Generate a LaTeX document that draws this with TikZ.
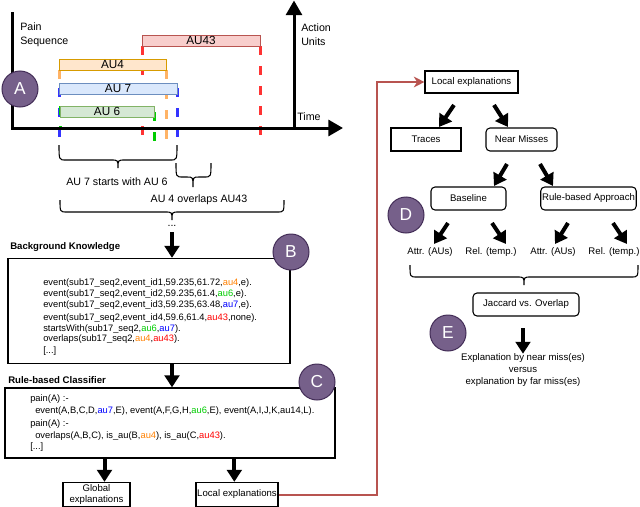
\documentclass[tikz,border=0pt]{standalone}
\usepackage{fontspec}
\setmainfont{Liberation Sans}
\usetikzlibrary{arrows.meta}
\definecolor{purp}{HTML}{76608A}
\definecolor{purpd}{HTML}{432D57}
\definecolor{rfill}{HTML}{F8CECC}\definecolor{rline}{HTML}{B85450}
\definecolor{ofill}{HTML}{FFE6CC}\definecolor{oline}{HTML}{D79B00}
\definecolor{bfill}{HTML}{DAE8FC}\definecolor{bline}{HTML}{6C8EBF}
\definecolor{gfill}{HTML}{D5E8D4}\definecolor{gline}{HTML}{82B366}
\definecolor{dred}{HTML}{FF3333}\definecolor{dora}{HTML}{FFB366}
\definecolor{dblu}{HTML}{3333FF}\definecolor{dgrn}{HTML}{00CC00}
\definecolor{tora}{HTML}{FF8000}\definecolor{tgrn}{HTML}{00CC00}
\definecolor{tblu}{HTML}{0000FF}\definecolor{tred}{HTML}{FF0000}
\newcommand{\kOr}[1]{\textcolor{tora}{#1}}
\newcommand{\kGr}[1]{\textcolor{tgrn}{#1}}
\newcommand{\kBl}[1]{\textcolor{tblu}{#1}}
\newcommand{\kRd}[1]{\textcolor{tred}{#1}}
\begin{document}
\begin{tikzpicture}[x=0.75pt,y=-0.75pt,
  code/.style={anchor=west, inner sep=0pt, font=\fontsize{7}{8}\selectfont},
  ttl/.style={anchor=west, inner sep=0pt, font=\fontsize{7.2}{8}\selectfont\bfseries},
  box/.style={draw, line width=0.8pt, inner sep=1pt, font=\fontsize{7.2}{8.6}\selectfont, align=center},
  rbox/.style={box, rounded corners=3pt},
  bigbox/.style={draw, line width=1pt, inner sep=0pt},
  letter/.style={circle, fill=purp, draw=purpd, line width=0.75pt, minimum size=27pt, inner sep=0pt, text=white, font=\fontsize{13}{13}\selectfont},
  fat/.style={line width=3pt, -{Triangle[length=9pt,width=11pt]}},
  axis/.style={line width=2.25pt, -{Triangle[length=11pt,width=12pt]}},
  audash/.style={line width=2.25pt, dash pattern=on 6.75pt off 8.25pt},
  bar/.style={draw, line width=0.75pt, inner sep=0pt, minimum height=8.25pt, font=\fontsize{8.8}{8.8}\selectfont},
  lbl/.style={inner sep=0pt, font=\fontsize{8}{10.5}\selectfont, align=left},
  plain/.style={inner sep=0pt, font=\fontsize{7.2}{9}\selectfont, align=center},
  brace/.style={line width=0.8pt}
]
\useasboundingbox (0,0) rectangle (640,507);

% ---------- timeline ----------
\draw[audash, dred] (142,46) -- (142,142);
\draw[audash, dred] (260,46) -- (260,142);
\draw[audash, dora] (59,70) -- (59,80);
\draw[audash, dora] (166,70) -- (166,142);
\draw[audash, dblu] (59,88) -- (59,142);
\draw[audash, dblu] (177,88) -- (177,142);
\draw[audash, dgrn] (60,106) -- (60,130);
\draw[audash, dgrn] (154,112) -- (154,142);

\node[bar, fill=rfill, draw=rline, minimum width=88.5pt] (au43) at (201,40.5) {AU43};
\node[bar, fill=ofill, draw=oline, minimum width=80.25pt] (au4) at (112.5,64.5) {AU4};
\node[bar, fill=bfill, draw=bline, minimum width=88.5pt] (au7) at (118,88.5) {AU 7};
\node[bar, fill=gfill, draw=gline, minimum width=70.5pt] (au6) at (107,111.5) {AU 6};

\draw[line width=2.25pt] (12,12) -- (12,129);
\draw[axis] (11,128) -- (343,128);
\draw[axis] (294,129.5) -- (294,0.5);

\node[lbl, anchor=west] (pain) at (20,35) {Pain\\Sequence};
\node[lbl, anchor=west] (actu) at (301,35) {Action\\Units};
\node[lbl, anchor=west] (time) at (297,117) {Time};
\node[letter] (A) at (20,89) {A};

\draw[brace] (59,145) .. controls (59,160) .. (66,160) -- (111,160) .. controls (118,160) .. (118,168)
  .. controls (118,160) .. (125,160) -- (170,160) .. controls (177,160) .. (177,145);
\draw[brace] (176,163) .. controls (176,177) .. (183,177) -- (187,177) .. controls (193,177) .. (193,187)
  .. controls (193,177) .. (199,177) -- (204,177) .. controls (211,177) .. (211,163);
\draw[brace] (60,200) .. controls (60,212) .. (67,212) -- (165,212) .. controls (172,212) .. (172,220)
  .. controls (172,212) .. (179,212) -- (277,212) .. controls (284,212) .. (284,200);
\node[lbl] (starts) at (117,182) {AU 7 starts with AU 6};
\node[lbl] (overl) at (199,200) {AU 4 overlaps AU43};
\node[lbl] (dots) at (172,226) {...};

% ---------- background knowledge ----------
\node[ttl] (bkt) at (10,247) {Background Knowledge};
\node[bigbox, minimum width=211.5pt, minimum height=78.75pt] (B) at (149,311) {};
\node[letter] (Bl) at (291,252) {B};
\node[code] (b1) at (43,283) {event(sub17\_seq2,event\_id1,59.235,61.72,\kOr{au4},e).};
\node[code] (b2) at (43,294) {event(sub17\_seq2,event\_id2,59.235,61.4,\kGr{au6},e).};
\node[code] (b3) at (43,305) {event(sub17\_seq2,event\_id3,59.235,63.48,\kBl{au7},e).};
\node[code] (b4) at (43,318) {event(sub17\_seq2,event\_id4,59.6,61.4,\kRd{au43},none).};
\node[code] (b5) at (43,329) {startsWith(sub17\_seq2,\kGr{au6},\kBl{au7}).};
\node[code] (b6) at (43,339.5) {overlaps(sub17\_seq2,\kOr{au4},\kRd{au43}).};
\node[code] (b7) at (43,351) {[...]};
\draw[fat] (dots.south |- 0,232) -- (dots.south |- B.north);

% ---------- rule-based classifier ----------
\node[ttl] (rct) at (8,380) {Rule-based Classifier};
\node[bigbox, minimum width=247.5pt, minimum height=52.5pt] (C) at (170,423) {};
\node[letter] (Cl) at (317,382) {C};
\node[code] (c1) at (30,399) {pain(A) :-};
\node[code] (c2) at (35,411.5) {event(A,B,C,D,\kBl{au7},E), event(A,F,G,H,\kGr{au6},E), event(A,I,J,K,au14,L).};
\node[code] (c3) at (30,424.5) {pain(A) :-};
\node[code] (c4) at (35,436) {overlaps(A,B,C), is\_au(B,\kOr{au4}), is\_au(C,\kRd{au43}).};
\node[code] (c5) at (30,447.5) {[...]};
\draw[fat] (B.south -| dots) -- (C.north -| dots);

\node[box, line width=1pt, minimum width=50.25pt, minimum height=18pt, inner sep=0pt] (glob) at (96.5,494.5) {Global\\explanations};
\node[box, line width=1pt, minimum width=61.5pt, minimum height=18pt] (locb) at (237,494.5) {Local explanations};
\draw[fat] ([xshift=6pt]glob.north |- C.south) -- ([xshift=6pt]glob.north);
\draw[fat] ([xshift=-2pt]locb.north |- C.south) -- ([xshift=-2pt]locb.north);

% ---------- right side ----------
\node[box, minimum width=69.75pt, minimum height=16.5pt] (le) at (471.5,82) {Local explanations};
\coordinate (rc) at (377,494.5);
\draw[rline, line width=1.5pt, -{Stealth[length=8pt,width=8pt,inset=2.5pt]}] (locb.east) -- (rc) |- (le.west);

\node[box, minimum width=52.5pt, minimum height=17.25pt] (tr) at (426,139.5) {Traces};
\node[rbox, minimum width=53.25pt, minimum height=17.25pt] (nm) at (521.5,139.5) {Near Misses};
\node[rbox, minimum width=56.25pt, minimum height=17.25pt] (bl) at (468.5,198.5) {Baseline};
\node[rbox, minimum width=71.25pt, minimum height=17.25pt] (rba) at (588.5,198.5) {Rule-based Approach};
\coordinate (a1s) at (454,105); \coordinate (a1e) at (439,127);
\coordinate (a2s) at (494,105); \coordinate (a2e) at (508,127);
\coordinate (a3s) at (507,164); \coordinate (a3e) at (494,186);
\coordinate (a4s) at (540,164); \coordinate (a4e) at (553,186);
\draw[fat] (a1s) -- (a1e);
\draw[fat] (a2s) -- (a2e);
\draw[fat] (a3s) -- (a3e);
\draw[fat] (a4s) -- (a4e);

\node[letter] (Dl) at (406,215) {D};
\node[plain] (r1) at (430,252) {Attr. (AUs)};
\node[plain] (r2) at (491,252) {Rel. (temp.)};
\node[plain] (r3) at (553,252) {Attr. (AUs)};
\node[plain] (r4) at (614,252) {Rel. (temp.)};
\coordinate (d1s) at (448,223); \coordinate (d1e) at (434,244);
\coordinate (d2s) at (492,223); \coordinate (d2e) at (506,244);
\coordinate (d3s) at (568,223); \coordinate (d3e) at (555,244);
\coordinate (d4s) at (613,223); \coordinate (d4e) at (627,244);
\draw[fat] (d1s) -- (d1e);
\draw[fat] (d2s) -- (d2e);
\draw[fat] (d3s) -- (d3e);
\draw[fat] (d4s) -- (d4e);

\draw[brace] (410,265) .. controls (410,277) .. (417,277) -- (517,277) .. controls (524,277) .. (524,285)
  .. controls (524,277) .. (531,277) -- (631,277) .. controls (638,277) .. (638,265);

\node[rbox, minimum width=79.5pt, minimum height=17.25pt] (jac) at (526,304.5) {Jaccard vs. Overlap};
\node[letter] (El) at (448,333) {E};
\node[plain] (expl) at (523,370.5) {Explanation by near miss(es)\\versus\\explanation by far miss(es)};
\coordinate (es) at (523,328);
\draw[fat] (es) -- (expl.north);
\end{tikzpicture}
\end{document}
